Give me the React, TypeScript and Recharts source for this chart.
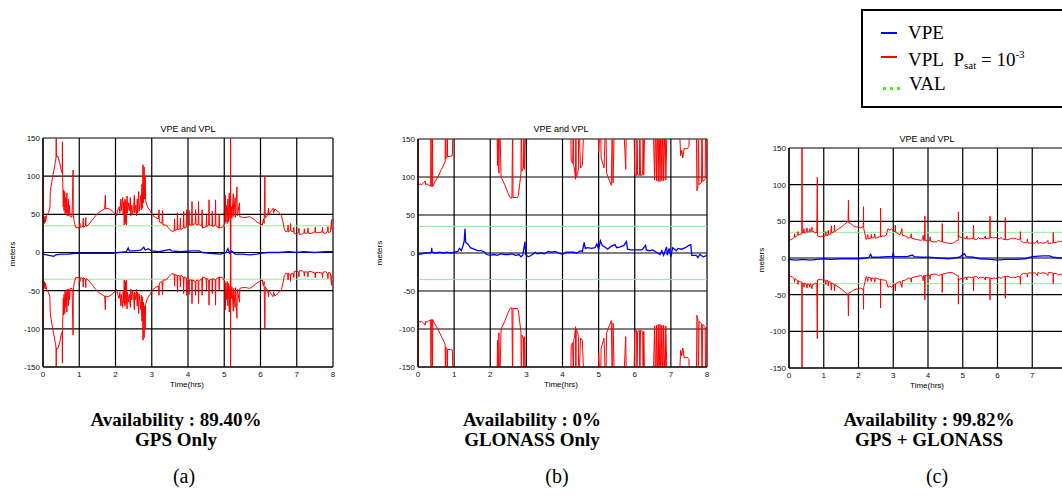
import React from "react";
import { CartesianGrid, Line, LineChart, ReferenceLine, XAxis, YAxis } from "recharts";

type Pt = [number, number | null];

const hourTicks = [0, 1, 2, 3, 4, 5, 6, 7, 8];
const hourTicksCut = [0, 1, 2, 3, 4, 5, 6, 7];
const meterTicks = [-150, -100, -50, 0, 50, 100, 150];
const valLimit = 35;

// (a) GPS only - upper protection level (lower is the mirror)
const vplGps: Pt[] = [
	[0, 35], [0.004, 100], [0.008, 36], [0.03, 46], [0.035, 38], [0.06, 48], [0.065, 40], [0.09, 45], [0.095, 48],
	[0.15, 52], [0.19, 58], [0.2, 80], [0.25, 95], [0.3, 108], [0.34, 118], [0.36, 125], [0.365, 150], [0.37, 125],
	[0.41, 126], [0.46, 118], [0.5, 108], [0.53, 104], [0.535, 145], [0.54, 100], [0.56, 60], [0.57, 82], [0.58, 55],
	[0.6, 80], [0.61, 50], [0.63, 72], [0.64, 52], [0.66, 78], [0.67, 48], [0.7, 70], [0.71, 48], [0.73, 62], [0.75, 47],
	[0.8, 47], [0.83, 108], [0.835, 50], [0.86, 40], [0.9, 33], [1.0, 33], [1.02, 38], [1.03, 33], [1.1, 34], [1.11, 45],
	[1.12, 33], [1.17, 35], [1.18, 46], [1.19, 34], [1.25, 36], [1.35, 42], [1.45, 48], [1.55, 53], [1.7, 57], [1.72, 75],
	[1.73, 57], [1.8, 58], [1.9, 55], [2.0, 50], [2.03, 48], [2.06, 55], [2.1, 60], [2.12, 52], [2.15, 70], [2.16, 55],
	[2.2, 72], [2.21, 50], [2.23, 66], [2.24, 36], [2.26, 70], [2.27, 38], [2.29, 68], [2.3, 36], [2.32, 74], [2.33, 52],
	[2.36, 65], [2.38, 55], [2.41, 72], [2.42, 48], [2.45, 62], [2.47, 50], [2.5, 58], [2.52, 75], [2.53, 52], [2.56, 62],
	[2.58, 48], [2.6, 70], [2.61, 52], [2.64, 80], [2.65, 54], [2.7, 75], [2.71, 56], [2.73, 90], [2.74, 58], [2.76, 115],
	[2.77, 65], [2.79, 112], [2.8, 70], [2.82, 100], [2.83, 68], [2.88, 60], [2.95, 55], [3.02, 49], [3.1, 46], [3.18, 44],
	[3.2, 56], [3.21, 40], [3.28, 38], [3.3, 55], [3.31, 36], [3.4, 36], [3.5, 30], [3.55, 28], [3.62, 28], [3.63, 44],
	[3.64, 29], [3.7, 30], [3.71, 52], [3.72, 30], [3.78, 31], [3.79, 45], [3.8, 30], [3.87, 32], [3.88, 54], [3.89, 32],
	[3.95, 33], [3.96, 56], [3.97, 34], [4.02, 35], [4.03, 55], [4.04, 36], [4.1, 36], [4.11, 67], [4.12, 36], [4.2, 38],
	[4.21, 56], [4.22, 37], [4.28, 36], [4.29, 67], [4.3, 38], [4.38, 34], [4.39, 56], [4.4, 32], [4.5, 34], [4.51, 50],
	[4.52, 34], [4.57, 36], [4.58, 69], [4.59, 36], [4.66, 35], [4.67, 54], [4.68, 34], [4.75, 36], [4.76, 69], [4.77, 35],
	[4.85, 32], [4.86, 50], [4.87, 32], [4.95, 33], [5.02, 38], [5.03, 75], [5.04, 40], [5.07, 62], [5.08, 38], [5.1, 70],
	[5.11, 40], [5.14, 78], [5.15, 45], [5.17, 40], [5.175, -180], [5.18, 45], [5.2, 60], [5.21, 45], [5.25, 77], [5.26, 47],
	[5.3, 72], [5.31, 46], [5.35, 86], [5.36, 48], [5.42, 65], [5.43, 47], [5.5, 46], [5.6, 46], [5.7, 47], [5.8, 44],
	[5.9, 40], [5.98, 38], [6.05, 36], [6.08, 44], [6.1, 38], [6.12, 100], [6.13, 45], [6.2, 50], [6.22, 58], [6.23, 50],
	[6.3, 55], [6.35, 58], [6.36, 52], [6.4, 57], [6.45, 55], [6.5, 53], [6.55, 50], [6.58, 48], [6.62, 40], [6.66, 30],
	[6.7, 27], [6.75, 28], [6.76, 36], [6.77, 27], [6.82, 29], [6.83, 38], [6.84, 28], [6.9, 27], [6.92, 33], [6.93, 25],
	[7.0, 24], [7.05, 26], [7.06, 32], [7.07, 24], [7.15, 24], [7.2, 26], [7.21, 31], [7.22, 25], [7.3, 26], [7.31, 32],
	[7.32, 25], [7.4, 25], [7.5, 27], [7.51, 33], [7.52, 26], [7.6, 26], [7.7, 27], [7.71, 33], [7.72, 26], [7.8, 25],
	[7.85, 28], [7.86, 34], [7.87, 26], [7.93, 27], [7.96, 43], [7.97, 30], [8.0, 29],
];

const vpeGps: Pt[] = [
	[0, -2], [0.1, -3], [0.2, -4], [0.3, -5], [0.35, -3], [0.5, -2], [0.7, -2], [0.9, -1], [1.0, -1], [1.3, -1], [1.6, -1],
	[1.9, -1], [2.1, 0], [2.3, 1], [2.35, 6], [2.38, 2], [2.5, 2], [2.7, 3], [2.78, 7], [2.82, 3], [2.9, 5], [3.0, 2],
	[3.2, 1], [3.5, 4], [3.55, 2], [3.8, 1], [4.1, 2], [4.3, 2], [4.4, 0], [4.6, -1], [4.9, -2], [5.05, 0], [5.1, 5],
	[5.15, -1], [5.2, 2], [5.3, -2], [5.5, -2], [5.7, -3], [5.9, -2], [6.0, -1], [6.2, 0], [6.5, 0], [6.8, 1], [7.0, 0],
	[7.2, 1], [7.5, 0], [7.8, 1], [8.0, 1],
];

// (b) GLONASS only - mostly off the scale, gaps where no solution
const vplGlonass: Pt[] = [
	[0, 180], [0.005, 88], [0.05, 91], [0.1, 90], [0.15, 92], [0.2, 95], [0.21, 90], [0.25, 91], [0.3, 89], [0.35, 88],
	[0.36, 180], [0.37, 90], [0.39, 87], [0.4, 180], [0.41, 88], [0.45, 92], [0.55, 100], [0.65, 110], [0.75, 120],
	[0.76, 180], [0.77, 124], [0.8, 126], [0.81, 180], [0.82, 127], [0.9, 127], [0.95, 128], [0.98, 180], [0.985, null],
	[2.18, null], [2.185, 180], [2.2, 115], [2.22, 180], [2.24, 105], [2.26, 180], [2.3, 100], [2.4, 90], [2.5, 78],
	[2.55, 73], [2.6, 72], [2.62, 180], [2.63, 73], [2.75, 73], [2.78, 76], [2.85, 105], [2.86, 180], [2.88, 108],
	[2.92, 112], [2.93, 180], [2.95, 110], [2.98, 180], [2.985, null],
	[4.22, null], [4.225, 180], [4.24, 122], [4.28, 118], [4.3, 180], [4.31, 115], [4.34, 108], [4.36, 97], [4.37, 180],
	[4.38, 100], [4.42, 105], [4.44, 110], [4.45, 180], [4.5, 112], [4.55, 115], [4.6, 180], [4.605, null],
	[4.98, null], [4.985, 180], [5.0, 132], [5.05, 180], [5.07, 125], [5.15, 112], [5.2, 180], [5.22, 105], [5.3, 95],
	[5.35, 89], [5.38, 180], [5.4, 92], [5.44, 180], [5.445, null],
	[5.68, null], [5.685, 180], [5.75, 110], [5.77, 180], [5.775, null],
	[5.97, null], [5.975, 180], [6.0, 103], [6.05, 102], [6.06, 180], [6.08, 103], [6.13, 102], [6.14, 180], [6.16, 102],
	[6.22, 103], [6.23, 180], [6.25, 103], [6.28, 180], [6.285, null],
	[6.5, null], [6.505, 180], [6.55, 96], [6.57, 180], [6.6, 95], [6.62, 180], [6.65, 94], [6.67, 180], [6.7, 94],
	[6.72, 180], [6.75, 95], [6.78, 180], [6.8, 95], [6.84, 180], [6.86, 96], [6.9, 180], [6.905, null],
	[7.22, null], [7.225, 180], [7.27, 128], [7.3, 135], [7.33, 125], [7.37, 138], [7.45, 137], [7.5, 140], [7.52, 180],
	[7.525, null],
	[7.7, null], [7.705, 180], [7.72, 82], [7.75, 88], [7.76, 180], [7.78, 90], [7.85, 93], [7.86, 180], [7.88, 94],
	[7.95, 97], [7.96, 180], [8.0, 100],
];

const vpeGlonass: Pt[] = [
	[0, -2], [0.1, -1], [0.2, 0], [0.3, 0], [0.37, 1], [0.38, 7], [0.39, 1], [0.5, 0], [0.6, 1], [0.7, 0], [0.8, 1],
	[0.9, 0], [1.0, 1], [1.1, 2], [1.15, 6], [1.2, 3], [1.25, 10], [1.28, 16], [1.3, 32], [1.32, 14], [1.38, 12],
	[1.45, 7], [1.55, 5], [1.65, 3], [1.75, 3], [1.85, 1], [1.9, -2], [2.0, -3], [2.1, -2], [2.2, -3], [2.3, -1],
	[2.4, -2], [2.5, -2], [2.6, -1], [2.7, -3], [2.8, -2], [2.85, -5], [2.9, -3], [2.96, 15], [2.98, -2], [3.05, -5],
	[3.1, -4], [3.2, -1], [3.25, 1], [3.3, -1], [3.4, 0], [3.5, -1], [3.6, 2], [3.7, 1], [3.8, 2], [3.9, 0], [4.0, -2],
	[4.1, 1], [4.3, 1], [4.4, 0], [4.5, 3], [4.55, 2], [4.6, 14], [4.63, 6], [4.7, 7], [4.8, 6], [4.9, 7], [4.95, 12],
	[5.0, 5], [5.05, 16], [5.1, 10], [5.2, 7], [5.25, 5], [5.35, 9], [5.45, 11], [5.5, 7], [5.6, 8], [5.7, 10],
	[5.77, 15], [5.8, 5], [5.9, 4], [6.0, 4], [6.2, 4], [6.3, 10], [6.32, 4], [6.4, 3], [6.5, 4], [6.6, 1], [6.7, -2],
	[6.75, 3], [6.8, -3], [6.88, 8], [6.9, -3], [6.95, 6], [7.0, -5], [7.05, 7], [7.1, 5], [7.15, 3], [7.2, 6],
	[7.3, 5], [7.4, 7], [7.5, 10], [7.55, 11], [7.58, -3], [7.7, -3], [7.75, -6], [7.8, -2], [7.9, -5], [8.0, -3],
];

// (c) GPS + GLONASS
const vplCombined: Pt[] = [
	[0, 100], [0.005, 24], [0.05, 25], [0.1, 26], [0.15, 28], [0.16, 33], [0.17, 28], [0.22, 30], [0.25, 31], [0.26, 36],
	[0.27, 31], [0.3, 32], [0.35, 33], [0.37, 33], [0.375, 180], [0.38, 34], [0.42, 35], [0.43, 40], [0.44, 34],
	[0.5, 36], [0.52, 41], [0.53, 35], [0.58, 36], [0.6, 40], [0.61, 35], [0.65, 37], [0.66, 42], [0.67, 36],
	[0.72, 36], [0.75, 34], [0.8, 35], [0.815, 110], [0.82, 30], [0.9, 29], [0.95, 30], [1.0, 29], [1.05, 31],
	[1.06, 36], [1.07, 30], [1.12, 31], [1.13, 38], [1.14, 32], [1.2, 33], [1.22, 44], [1.23, 34], [1.3, 36],
	[1.31, 45], [1.32, 36], [1.4, 39], [1.5, 42], [1.6, 46], [1.7, 50], [1.71, 79], [1.72, 48], [1.8, 46], [1.85, 44],
	[1.9, 43], [1.95, 42], [2.0, 43], [2.05, 41], [2.1, 42], [2.14, 43], [2.145, 70], [2.15, 40], [2.2, 30], [2.22, 25],
	[2.25, 28], [2.27, 32], [2.28, 26], [2.35, 27], [2.37, 32], [2.38, 27], [2.45, 28], [2.47, 33], [2.48, 27],
	[2.55, 28], [2.6, 29], [2.63, 29], [2.635, 68], [2.64, 29], [2.7, 30], [2.75, 30], [2.8, 31], [2.82, 35],
	[2.85, 40], [2.9, 38], [2.95, 40], [3.0, 37], [3.05, 36], [3.06, 45], [3.07, 35], [3.15, 33], [3.2, 32], [3.25, 40],
	[3.26, 31], [3.35, 30], [3.45, 27], [3.5, 28], [3.52, 33], [3.53, 27], [3.6, 26], [3.7, 25], [3.8, 24], [3.85, 26],
	[3.86, 31], [3.87, 24], [3.9, 24], [3.91, 57], [3.92, 24], [4.0, 23], [4.05, 24], [4.06, 29], [4.07, 23],
	[4.15, 22], [4.25, 22], [4.3, 24], [4.35, 23], [4.4, 22], [4.41, 47], [4.42, 22], [4.5, 21], [4.6, 20], [4.7, 20],
	[4.75, 21], [4.8, 23], [4.85, 24], [4.87, 24], [4.875, 63], [4.88, 28], [4.9, 30], [4.95, 28], [5.0, 28],
	[5.05, 27], [5.1, 26], [5.12, 30], [5.13, 26], [5.2, 26], [5.25, 27], [5.3, 26], [5.31, 45], [5.32, 26], [5.4, 25],
	[5.45, 28], [5.5, 26], [5.55, 27], [5.6, 26], [5.65, 30], [5.66, 26], [5.7, 27], [5.78, 27], [5.785, 57],
	[5.79, 28], [5.85, 28], [5.9, 27], [5.95, 28], [6.0, 27], [6.05, 26], [6.1, 28], [6.15, 26], [6.22, 25],
	[6.225, 55], [6.23, 25], [6.3, 25], [6.35, 26], [6.4, 27], [6.45, 26], [6.5, 27], [6.55, 26], [6.6, 25],
	[6.65, 26], [6.66, 36], [6.67, 24], [6.7, 22], [6.75, 21], [6.8, 21], [6.85, 22], [6.86, 26], [6.87, 21],
	[6.95, 20], [7.0, 21], [7.05, 20], [7.1, 21], [7.15, 24], [7.16, 20], [7.25, 21], [7.3, 20], [7.4, 21], [7.45, 24],
	[7.46, 20], [7.55, 20], [7.6, 21], [7.605, 35], [7.61, 21], [7.7, 21], [7.75, 23], [7.8, 22], [7.85, 23],
	[7.9, 22], [8.0, 22],
];

const vpeCombined: Pt[] = [
	[0, -2], [0.2, -3], [0.4, -2], [0.6, -3], [0.8, -2], [1.0, -1], [1.2, -2], [1.5, -1], [1.8, -1], [2.0, -1],
	[2.2, 0], [2.3, 1], [2.35, 5], [2.38, 1], [2.6, 1], [2.8, 2], [2.98, 2], [3.0, 8], [3.02, 2], [3.2, 2], [3.4, 2],
	[3.55, 4], [3.6, 2], [3.8, 1], [4.0, 1], [4.3, 0], [4.6, -1], [4.9, 1], [5.05, 6], [5.1, 2], [5.3, 1], [5.5, -1],
	[5.8, -2], [6.0, -3], [6.2, -2], [6.5, -2], [6.8, -1], [7.0, 2], [7.3, 3], [7.5, 3], [7.6, 1], [7.8, 0], [8.0, 0],
];

const sans = "'Liberation Sans', Arial, sans-serif";
const serif = "'Liberation Serif', 'Times New Roman', serif";

const asRows = (pts: Pt[], sign = 1) => pts.map(([t, v]) => ({ t, v: v == null ? null : sign * v }));

const Txt = ({ cx, cy, size, font = sans, bold = false, rotate = false, children }: any) => (
	<div style={{
		position: "absolute", left: cx, top: cy, whiteSpace: "nowrap", lineHeight: 1,
		transform: `translate(-50%, -50%)${rotate ? " rotate(-90deg)" : ""}`,
		fontSize: size, fontFamily: font, fontWeight: bold ? "bold" : "normal", color: "#000",
	}}>{children}</div>
);

const Panel = ({ left, top, width, height, margin, yWidth, xHeight, xTicks, vpe, vpl }: any) => {
	const upper = asRows(vpl);
	const lower = asRows(vpl, -1);
	const err = asRows(vpe);
	const tick = { fontSize: 8, fill: "#111", fontFamily: sans };

	return (
		<div style={{ position: "absolute", left, top }}>
			<LineChart width={width} height={height} margin={margin}>
				<CartesianGrid stroke="#000" strokeWidth={1.2} />
				<XAxis dataKey="t" type="number" domain={[0, 8]} ticks={xTicks} allowDataOverflow
					tickLine={false} tickSize={0} tickMargin={4} height={xHeight} tick={tick}
					axisLine={{ stroke: "#000", strokeWidth: 1.2 }} />
				<YAxis type="number" domain={[-150, 150]} ticks={meterTicks} allowDataOverflow
					tickLine={false} tickSize={0} tickMargin={3} width={yWidth} tick={tick}
					axisLine={{ stroke: "#000", strokeWidth: 1.2 }} />
				<ReferenceLine y={valLimit} stroke="#90ee90" strokeWidth={1} />
				<ReferenceLine y={-valLimit} stroke="#90ee90" strokeWidth={1} />
				<Line data={upper} dataKey="v" type="linear" stroke="#ff0000" strokeWidth={1} dot={false} isAnimationActive={false} />
				<Line data={lower} dataKey="v" type="linear" stroke="#ff0000" strokeWidth={1} dot={false} isAnimationActive={false} />
				<Line data={err} dataKey="v" type="linear" stroke="#0000ff" strokeWidth={1.3} dot={false} isAnimationActive={false} />
			</LineChart>
		</div>
	);
};

export default function App() {
	return (
		<div style={{ position: "absolute", left: 0, top: 0, width: 1062, height: 498, overflow: "hidden", background: "#fff" }}>
			<Panel left={0} top={120} width={345} height={280} margin={{ top: 18, right: 12, bottom: 0, left: 0 }}
				yWidth={43} xHeight={33} xTicks={hourTicks} vpe={vpeGps} vpl={vplGps} />
			<Panel left={375} top={120} width={345} height={280} margin={{ top: 19, right: 13, bottom: 0, left: 0 }}
				yWidth={43} xHeight={33} xTicks={hourTicks} vpe={vpeGlonass} vpl={vplGlonass} />
			<Panel left={745} top={120} width={340} height={280} margin={{ top: 28, right: 18, bottom: 0, left: 0 }}
				yWidth={44} xHeight={32} xTicks={hourTicksCut} vpe={vpeCombined} vpl={vplCombined} />

			<Txt cx={188} cy={129} size={9}>VPE and VPL</Txt>
			<Txt cx={561} cy={129} size={9}>VPE and VPL</Txt>
			<Txt cx={927} cy={139} size={9}>VPE and VPL</Txt>

			<Txt cx={13} cy={254} size={8} rotate>meters</Txt>
			<Txt cx={380} cy={253} size={8} rotate>meters</Txt>
			<Txt cx={762} cy={260} size={8} rotate>meters</Txt>

			<Txt cx={187} cy={385} size={8}>Time(hrs)</Txt>
			<Txt cx={561} cy={385} size={8}>Time(hrs)</Txt>
			<Txt cx={927} cy={386} size={8}>Time(hrs)</Txt>

			<Txt cx={176} cy={419} size={19} font={serif} bold>Availability : 89.40%</Txt>
			<Txt cx={176} cy={439} size={19} font={serif} bold>GPS Only</Txt>
			<Txt cx={184} cy={476} size={20} font={serif}>(a)</Txt>

			<Txt cx={532} cy={419} size={19} font={serif} bold>Availability : 0%</Txt>
			<Txt cx={532} cy={439} size={19} font={serif} bold>GLONASS Only</Txt>
			<Txt cx={557} cy={476} size={20} font={serif}>(b)</Txt>

			<Txt cx={929} cy={419} size={19} font={serif} bold>Availability : 99.82%</Txt>
			<Txt cx={929} cy={439} size={19} font={serif} bold>GPS + GLONASS</Txt>
			<Txt cx={937} cy={476} size={20} font={serif}>(c)</Txt>

			<div style={{ position: "absolute", left: 861, top: 9, width: 205, height: 95, border: "2px solid #000", background: "#fff" }} />
			<div style={{ position: "absolute", left: 881, top: 32, width: 16, height: 2, background: "#0000ff" }} />
			<div style={{ position: "absolute", left: 881, top: 56, width: 16, height: 2, background: "#ff0000" }} />
			{[883, 890, 897].map((x) => (
				<div key={x} style={{ position: "absolute", left: x, top: 87, width: 3, height: 3, background: "#44ee22" }} />
			))}
			<div style={{ position: "absolute", left: 908, top: 23.4, fontFamily: serif, fontSize: 19, lineHeight: 1, whiteSpace: "nowrap" }}>VPE</div>
			<div style={{ position: "absolute", left: 908, top: 49.1, fontFamily: serif, fontSize: 19, lineHeight: 1, whiteSpace: "nowrap" }}>
				VPL&nbsp;&nbsp;P<sub style={{ fontSize: 11, verticalAlign: -3 }}>sat</sub> = 10<sup style={{ fontSize: 11, verticalAlign: 8 }}>-3</sup>
			</div>
			<div style={{ position: "absolute", left: 909, top: 74.1, fontFamily: serif, fontSize: 19, lineHeight: 1, whiteSpace: "nowrap" }}>VAL</div>
		</div>
	);
}
